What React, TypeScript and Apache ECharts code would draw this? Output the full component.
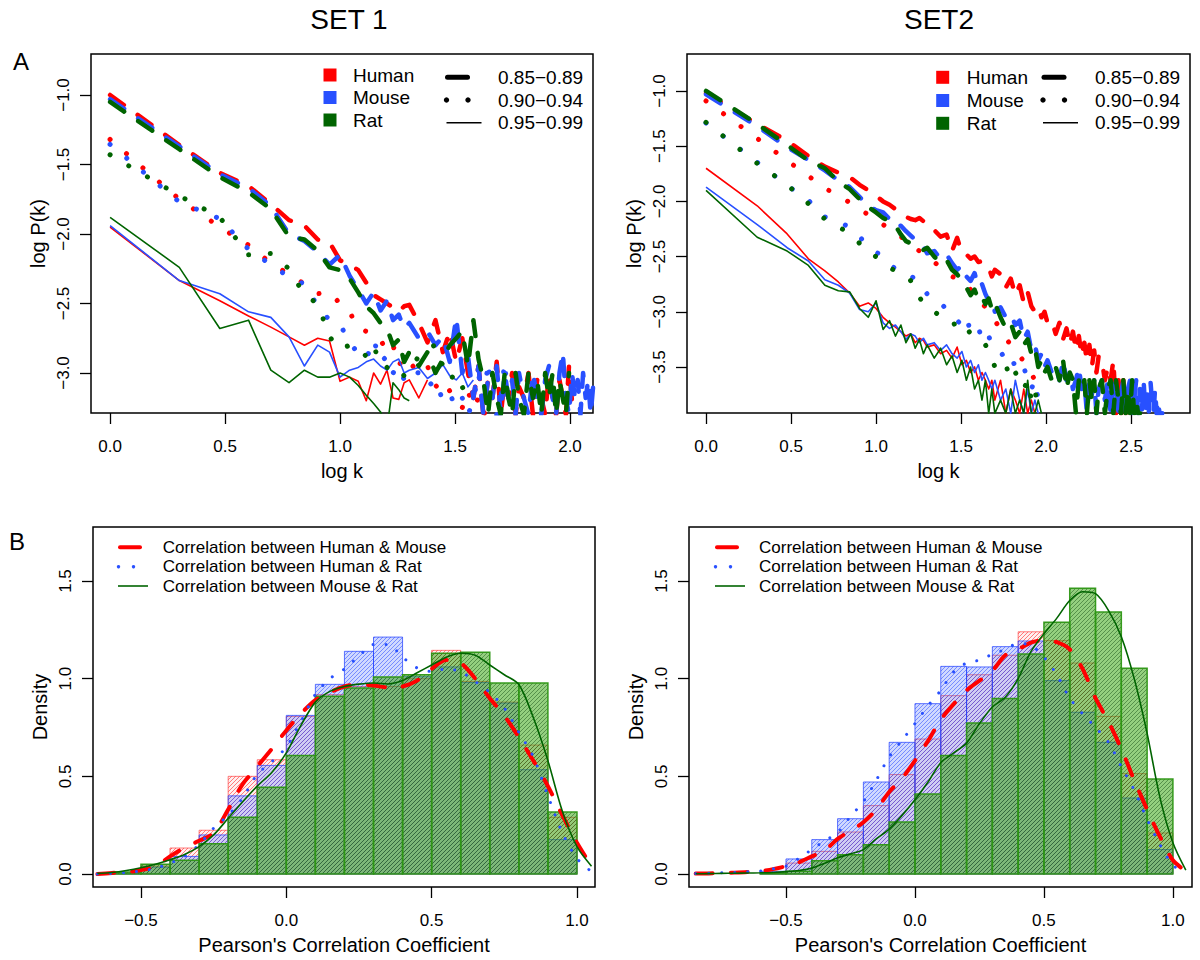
import React, { useEffect, useRef } from 'react';
import * as echarts from 'echarts';

const FONT = '"Liberation Sans", Arial, Helvetica, sans-serif';
const RED = '#ff0000';
const BLUE = '#2850ff';
const GREEN = '#006400';

// ---------- Panel A: degree distributions (x = log10 k) ----------
const kSet1 = [1,2,3,4,5,6,7,8,9,10,11,12,13,14,15,16,17,18,19,20,22,24,26,28,30,32,34,36,38,40,42,44,46,48,50,52,54,56,58,60,63,66,69,72,75,78,81,84,87,90,93,96,99,102,105,108,111,114,117,120,123,126];
const kSet2 = [1,2,3,4,5,6,7,8,9,10,11,12,13,14,15,16,17,18,19,20,22,24,26,28,30,32,34,36,38,40,42,44,46,48,50,54,58,62,66,70,74,78,82,86,90,94,98,102,108,114,120,126,132,138,144,150,156,162,168,174,180,186,192,198,204,213,222,231,240,249,258,267,276,285,294,303,312,321,330,339,348,357,366,375,384,393,402,411,420,429,438,447,456,465,474,483,492,501];

// SET 1 (log P(k)), aligned with kSet1
const s1HumanDash = [-1.00,-1.36,-1.56,-1.655,-1.785,-1.90,-1.94,-2.04,-2.06,-2.19,-2.22,-2.26,-2.35,-2.44,-2.47,-2.50,-2.53,-2.56,-2.52,-2.51,
  -2.64,-2.78,-2.62,-2.85,-2.70,-2.92,-2.75,-3.0,-3.18,-2.95,-3.3,-3.05,-3.18,-2.92,-3.3,-3.05,-3.18,-3.0,-3.3,-3.1,
  -3.18,-3.0,-3.3,-3.05,-3.18,-3.3,-3.0,-3.18,-3.3,-3.05,-3.18,-3.3,-2.95,-3.2];
const s1MouseDash = [-1.03,-1.37,-1.57,-1.67,-1.80,-2.00,-2.05,-2.13,-2.22,-2.15,-2.30,-2.40,-2.50,-2.42,-2.55,-2.48,-2.62,-2.58,-2.68,-2.64,
  -2.75,-2.70,-2.80,-2.74,-2.92,-2.60,-3.0,-2.88,-3.18,-2.95,-3.3,-3.05,-3.18,-2.95,-3.3,-3.0,-3.18,-3.05,-3.3,-3.0,
  -3.18,-3.3,-3.0,-3.18,-3.3,-3.05,-2.95,-3.18,-3.3,-3.0,-2.85,-3.18,-3.3,-3.0,-3.18,-3.05,-3.3,-3.0,-3.18,-3.05,-3.3,-3.1];
const s1RatDash = [-1.05,-1.39,-1.59,-1.70,-1.82,-2.02,-2.04,-2.12,-2.24,-2.26,-2.32,-2.42,-2.52,-2.57,-2.64,-2.68,-2.80,-2.76,-2.92,-2.85,
  -2.95,-2.85,-3.0,-2.90,-2.80,-2.75,-2.70,-2.95,-2.62,-2.90,-3.05,-3.3,-3.0,-3.18,-3.3,-3.0,-3.18,-3.3,-3.0,-3.18,
  -3.3,-3.0,-3.18,-3.05,-3.3,-3.0,-3.18,-3.0,-3.3,-3.05,-3.18,-3.3,-3.0];
const s1HumanDot = [-1.32,-1.75,-1.95,-2.08,-2.21,-2.29,-2.36,-2.43,-2.42,-2.50,-2.56,-2.68,-2.70,-2.72,-2.76,-2.85,-2.80,-2.95,-2.88,-2.92,
  -3.0,-2.95,-3.1,-3.05,-3.13,-3.18,-3.25,-3.13,-3.25,-3.18,-3.3,-3.25];
const s1MouseDot = [-1.355,-1.77,-1.89,-2.11,-2.22,-2.31,-2.36,-2.52,-2.62,-2.65,-2.78,-2.86,-2.90,-2.76,-2.92,-2.88,-3.0,-2.95,-3.05,-2.98,
  -3.0,-3.1,-3.05,-3.2,-3.15,-3.25,-3.18,-3.3,-3.2,-3.0,-3.25,-2.92,-3.2,-3.3,-3.18,-2.92,-3.25,-3.3];
const s1RatDot = [-1.43,-1.725,-1.88,-2.15,-2.14,-2.25,-2.44,-2.50,-2.74,-2.83,-2.80,-2.82,-2.88,-2.80,-2.95,-2.96,-3.0,-2.98,-3.02,-2.98,
  -2.88,-2.82,-2.80,-2.95,-3.05,-3.0,-3.1,-3.18];
const s1HumanSolid = [-1.95,-2.335,-2.48,-2.59,-2.67,-2.74,-2.80,-2.75,-2.77,-3.06,-3.03,-3.06,-3.20,-3.00,-3.08,-2.98,-3.18,-3.19,-3.07,-3.05,
  -3.18,-3.05];
const s1MouseSolid = [-1.94,-2.335,-2.43,-2.56,-2.60,-2.74,-2.95,-2.80,-2.85,-3.03,-2.98,-2.96,-2.92,-2.90,-2.95,-2.98,-2.92,-2.90,-3.0,-2.98,
  -2.96,-3.04,-3.0,-2.94,-3.02,-3.05,-3.0,-3.1,-3.05];
const s1RatSolid = [-1.88,-2.24,-2.68,-2.62,-2.98,-3.07,-2.98,-3.03,-3.03,-3.0,-3.03,-3.09,-3.16,-3.22,-3.28,-3.40,-3.07,-3.12,-3.18,-3.20];

// SET 2 (log P(k)), aligned with kSet2
const s2HumanDash = [-1.02,-1.30,-1.45,-1.59,-1.685,-1.74,-1.78,-1.85,-1.90,-1.95,-2.00,-2.03,-2.07,-2.11,-2.14,-2.16,-2.17,-2.15,-2.18,-2.23,
  -2.26,-2.32,-2.30,-2.45,-2.33,-2.47,-2.48,-2.52,-2.50,-2.55,-2.54,-2.57,-2.60,-2.68,-2.62,
  -2.66,-2.78,-2.70,-2.85,-2.76,-2.92,-2.82,-2.95,-3.0,-2.96,-3.05,-3.0,-3.1,
  -3.08,-3.2,-3.1,-3.25,-3.15,-3.3,-3.18,-3.35,-3.22,-3.4,-3.28,-3.45,-3.3,-3.5,-3.35,-3.55,-3.4,
  -3.44,-3.62,-3.5,-3.62,-3.44,-3.92,-3.62,-3.92,-3.62,-3.92];
const s2MouseDash = [-1.03,-1.32,-1.51,-1.625,-1.72,-1.81,-1.87,-1.96,-2.04,-2.08,-2.10,-2.16,-2.23,-2.22,-2.27,-2.31,-2.35,-2.40,-2.41,-2.47,
  -2.45,-2.52,-2.48,-2.56,-2.62,-2.58,-2.68,-2.72,-2.65,-2.78,-2.75,-2.84,-2.90,-2.88,-3.0,
  -2.96,-3.05,-3.02,-3.12,-3.08,-3.25,-3.18,-3.35,-3.3,-3.44,-3.38,-3.5,-3.44,
  -3.55,-3.5,-3.62,-3.44,-3.62,-3.55,-3.7,-3.62,-3.5,-3.7,-3.62,-3.92,-3.62,-3.75,-3.62,-3.92,-3.7,
  -3.62,-3.8,-3.62,-3.92,-3.7,-3.62,-3.92,-3.75,-3.62,-3.92,-3.7,-3.62,-3.92,-3.8,-3.62,-3.92,-3.7,-3.92,-3.62,-3.92,-3.75,-3.92,-3.62,-3.8,-3.92,-3.7,-3.92,-3.8,-3.92,-3.92,-3.92];
const s2RatDash = [-1.0,-1.30,-1.49,-1.63,-1.70,-1.82,-1.89,-1.98,-2.05,-2.10,-2.15,-2.18,-2.22,-2.30,-2.36,-2.38,-2.40,-2.41,-2.44,-2.42,
  -2.50,-2.56,-2.53,-2.62,-2.66,-2.72,-2.78,-2.85,-2.80,-2.89,-2.86,-2.93,-2.88,-2.98,-2.92,
  -3.05,-3.15,-3.10,-3.23,-3.18,-3.30,-3.25,-3.38,-3.32,-3.50,-3.44,-3.55,-3.5,
  -3.62,-3.5,-3.62,-3.44,-3.7,-3.55,-3.62,-3.92,-3.62,-3.7,-3.62,-3.92,-3.62,-3.8,-3.62,-3.92,-3.7,
  -3.62,-3.92,-3.7,-3.62,-3.92,-3.62,-3.8,-3.92,-3.62,-3.92,-3.7,-3.92,-3.62,-3.92,-3.8,-3.92,-3.92];
const s2HumanDot = [-1.09,-1.43,-1.63,-1.77,-1.88,-1.95,-2.01,-2.07,-2.12,-2.17,-2.21,-2.25,-2.28,-2.32,-2.35,-2.38,-2.42,-2.45,-2.47,-2.50,
  -2.55,-2.60,-2.63,-2.68,-2.70,-2.72,-2.76,-2.80,-2.84,-2.88,-2.92,-2.96,-3.0,-3.05,-3.08,
  -3.16,-3.24,-3.30,-3.34,-3.40,-3.45,-3.5,-3.56,-3.62,-3.7];
const s2MouseDot = [-1.29,-1.646,-1.855,-1.99,-2.14,-2.19,-2.23,-2.32,-2.41,-2.46,-2.50,-2.57,-2.61,-2.64,-2.66,-2.67,-2.71,-2.75,-2.79,-2.84,
  -2.86,-2.92,-2.98,-3.02,-3.08,-3.12,-3.05,-3.18,-3.20,-3.15,-3.24,-3.28,-3.22,-3.30,-3.32,
  -3.36,-3.44,-3.40,-3.50,-3.55,-3.50,-3.62,-3.70,-3.62,-3.80,-3.92];
const s2RatDot = [-1.284,-1.655,-1.85,-2.02,-2.16,-2.23,-2.29,-2.38,-2.47,-2.50,-2.55,-2.60,-2.63,-2.66,-2.67,-2.72,-2.84,-2.87,-2.92,-2.96,
  -3.0,-3.04,-3.08,-3.12,-3.10,-3.16,-3.14,-3.20,-3.22,-3.25,-3.28,-3.30,-3.35,-3.42,-3.50,
  -3.54,-3.48,-3.62,-3.55,-3.62,-3.70,-3.62,-3.80,-3.70,-3.92];
const s2HumanSolid = [-1.70,-2.04,-2.295,-2.52,-2.63,-2.73,-2.83,-2.95,-2.92,-2.97,-3.05,-3.10,-3.14,-3.18,-3.22,-3.20,-3.28,-3.24,-3.26,-3.32,
  -3.30,-3.38,-3.35,-3.42,-3.32,-3.48,-3.44,-3.55,-3.50,-3.62,-3.55,-3.62,-3.70,-3.62,-3.80,
  -3.62,-3.92,-3.70,-3.80,-3.92,-3.70,-3.92,-3.80,-3.92];
const s2MouseSolid = [-1.87,-2.21,-2.42,-2.54,-2.71,-2.76,-2.83,-2.98,-3.0,-2.92,-3.10,-3.15,-3.12,-3.18,-3.25,-3.20,-3.22,-3.28,-3.24,-3.30,
  -3.28,-3.35,-3.30,-3.38,-3.42,-3.36,-3.50,-3.44,-3.55,-3.48,-3.62,-3.55,-3.62,-3.70,-3.62,
  -3.80,-3.70,-3.92,-3.62,-3.80,-3.92,-3.70,-3.92,-3.80,-3.92];
const s2RatSolid = [-1.90,-2.325,-2.45,-2.58,-2.76,-2.81,-2.82,-2.97,-3.05,-2.90,-3.16,-3.08,-3.22,-3.12,-3.28,-3.20,-3.33,-3.25,-3.38,-3.30,
  -3.42,-3.33,-3.48,-3.40,-3.55,-3.44,-3.62,-3.50,-3.70,-3.62,-3.80,-3.62,-3.92,-3.70,-3.92,
  -3.80,-3.92,-3.70,-3.92,-3.80,-3.92,-3.62,-3.92,-3.92,-3.80,-3.92];

// ---------- Panel B: correlation histograms (density) ----------
const histEdges = [-0.6,-0.5,-0.4,-0.3,-0.2,-0.1,0.0,0.1,0.2,0.3,0.4,0.5,0.6,0.7,0.8,0.9,1.0];
const h1HumanMouse = [0.006,0.04,0.133,0.224,0.50,0.585,0.807,0.918,0.96,0.96,1.0,1.145,0.986,0.88,0.66,0.29];
const h1HumanRat = [0.005,0.035,0.09,0.20,0.40,0.556,0.812,0.971,1.14,1.213,1.01,1.06,0.98,0.875,0.534,0.176];
const h1MouseRat = [0.01,0.05,0.07,0.155,0.29,0.444,0.607,0.91,0.952,1.008,1.02,1.13,1.135,0.978,0.978,0.317];
const h2HumanMouse = [0.01,0.056,0.116,0.215,0.35,0.509,0.691,0.913,1.02,1.12,1.24,1.195,1.08,0.807,0.514,0.21];
const h2HumanRat = [0.014,0.077,0.176,0.283,0.471,0.674,0.872,1.063,1.06,1.164,1.193,0.99,0.828,0.674,0.389,0.125];
const h2MouseRat = [0.005,0.014,0.068,0.099,0.15,0.266,0.41,0.607,0.773,0.898,1.126,1.289,1.463,1.341,1.053,0.486];

// density curves
const kdeX1 = [-0.65,-0.6,-0.55,-0.5,-0.45,-0.4,-0.35,-0.3,-0.25,-0.2,-0.15,-0.1,-0.05,0,0.05,0.1,0.15,0.2,0.25,0.3,0.35,0.4,0.45,0.5,0.55,0.6,0.65,0.7,0.75,0.8,0.85,0.9,0.95,1.0,1.05];
const d1HumanMouse = [0.0,0.005,0.01,0.02,0.04,0.09,0.135,0.17,0.21,0.33,0.46,0.55,0.64,0.735,0.82,0.89,0.93,0.96,0.97,0.965,0.955,0.96,0.99,1.05,1.095,1.08,1.0,0.9,0.81,0.70,0.58,0.45,0.30,0.16,0.04];
const d1HumanRat = [0.0,0.003,0.008,0.015,0.03,0.055,0.09,0.15,0.235,0.30,0.39,0.51,0.575,0.65,0.78,0.92,1.0,1.05,1.115,1.175,1.175,1.11,1.055,1.037,1.05,1.035,0.985,0.93,0.85,0.725,0.60,0.40,0.21,0.08,0.012];
const d1MouseRat = [0.003,0.008,0.018,0.032,0.05,0.073,0.10,0.14,0.20,0.285,0.37,0.45,0.52,0.62,0.76,0.88,0.935,0.96,0.972,0.978,0.973,0.99,1.03,1.07,1.11,1.13,1.12,1.07,1.02,0.97,0.80,0.58,0.32,0.14,0.04];
const kdeX2 = [-0.85,-0.8,-0.75,-0.7,-0.65,-0.6,-0.55,-0.5,-0.45,-0.4,-0.35,-0.3,-0.25,-0.2,-0.15,-0.1,-0.05,0,0.05,0.1,0.15,0.2,0.25,0.3,0.35,0.4,0.45,0.5,0.55,0.6,0.65,0.7,0.75,0.8,0.85,0.9,0.95,1.0,1.05];
const d2HumanMouse = [0.002,0.003,0.005,0.007,0.01,0.015,0.025,0.04,0.06,0.09,0.12,0.18,0.22,0.265,0.33,0.42,0.49,0.58,0.68,0.79,0.87,0.94,0.99,1.04,1.12,1.15,1.185,1.195,1.187,1.15,1.05,0.90,0.78,0.64,0.48,0.33,0.19,0.07,0.015];
const d2HumanRat = [0.002,0.004,0.006,0.008,0.011,0.015,0.026,0.04,0.08,0.125,0.17,0.21,0.295,0.37,0.48,0.60,0.685,0.77,0.86,0.94,1.035,1.08,1.095,1.125,1.15,1.18,1.17,1.11,1.02,0.90,0.82,0.75,0.675,0.55,0.43,0.28,0.15,0.045,0.006];
const d2MouseRat = [0.001,0.002,0.003,0.004,0.005,0.006,0.008,0.012,0.018,0.03,0.055,0.083,0.103,0.125,0.18,0.23,0.30,0.38,0.47,0.57,0.62,0.67,0.77,0.855,0.905,1.0,1.14,1.23,1.31,1.40,1.445,1.435,1.35,1.215,1.0,0.72,0.39,0.16,0.02];

const speciesNames = ['Human', 'Mouse', 'Rat'];
const rangeNames = ['0.85\u22120.89', '0.90\u22120.94', '0.95\u22120.99'];
const corrNames = ['Correlation between Human & Mouse', 'Correlation between Human & Rat', 'Correlation between Mouse & Rat'];

// ---------- helpers ----------
const fmt = (v: number) => (v < 0 ? '\u2212' : '') + Math.abs(v).toFixed(1);

function xAxisDef(grid: number, min: number, max: number, ticks: number[], name: string) {
  return {
    type: 'value', gridIndex: grid, min, max, name, nameLocation: 'middle', nameGap: 48,
    nameTextStyle: { fontFamily: FONT, fontSize: 20, color: '#000' },
    axisLine: { show: false, onZero: false }, splitLine: { show: false },
    axisTick: { show: true, inside: false, length: 11, customValues: ticks, lineStyle: { color: '#000', width: 1.3 } },
    axisLabel: { show: true, customValues: ticks, formatter: fmt, margin: 25, fontFamily: FONT, fontSize: 17, color: '#000' },
  };
}
function yAxisDef(grid: number, min: number, max: number, ticks: number[], name: string) {
  return {
    type: 'value', gridIndex: grid, min, max, name, nameLocation: 'middle', nameGap: 43,
    nameTextStyle: { fontFamily: FONT, fontSize: 20, color: '#000' },
    axisLine: { show: false, onZero: false }, splitLine: { show: false },
    axisTick: { show: true, inside: false, length: 11, customValues: ticks, lineStyle: { color: '#000', width: 1.3 } },
    axisLabel: { show: true, customValues: ticks, formatter: fmt, rotate: 90, margin: 19, fontFamily: FONT, fontSize: 17, color: '#000' },
  };
}

type LStyle = 'dash' | 'dot' | 'solid';
function degreeLine(grid: number, ks: number[], vals: number[], color: string, st: LStyle) {
  const data: number[][] = [];
  for (let i = 0; i < vals.length && i < ks.length; i++) data.push([Math.log10(ks[i]), vals[i]]);
  let lineStyle: any;
  if (st === 'dash') lineStyle = { color, width: 4.5, type: [17, 17], cap: 'round', join: 'round' };
  else if (st === 'dot') lineStyle = { color, width: 5, type: [0.01, 21.7], cap: 'round', join: 'round' };
  else lineStyle = { color, width: 1.6, type: 'solid', join: 'round' };
  return {
    type: 'line', xAxisIndex: grid, yAxisIndex: grid, data, showSymbol: false, symbol: 'none',
    silent: true, clip: true, lineStyle, animation: false,
  };
}

function kdeLine(grid: number, xs: number[], vals: number[], kind: number) {
  const data = xs.map((x, i) => [x, vals[i]]);
  let lineStyle: any;
  if (kind === 0) lineStyle = { color: RED, width: 4, type: [17, 18], cap: 'round' };
  else if (kind === 1) lineStyle = { color: BLUE, width: 3, type: [0.01, 13], cap: 'round' };
  else lineStyle = { color: GREEN, width: 1.6, type: 'solid' };
  return {
    type: 'line', xAxisIndex: grid, yAxisIndex: grid, data, showSymbol: false, symbol: 'none',
    silent: true, clip: true, smooth: 0.3, lineStyle, animation: false, z: 5,
  };
}

function histSeries(grid: number, heights: number[], fill: string, hatch: string, border: string, bw: number) {
  const data = heights.map((h, i) => [histEdges[i], histEdges[i + 1], h]);
  return {
    type: 'custom', xAxisIndex: grid, yAxisIndex: grid, silent: true, animation: false,
    encode: { x: [0, 1], y: 2 }, data, z: 2,
    renderItem: (params: any, api: any) => {
      const a = api.coord([api.value(0), api.value(2)]);
      const b = api.coord([api.value(1), 0]);
      const L = a[0], T = a[1], R = b[0], B = b[1];
      const step = 4;
      let d = '';
      for (let c = Math.ceil((L + T) / step) * step; c <= R + B; c += step) {
        const xa = Math.max(L, c - B);
        const xb = Math.min(R, c - T);
        if (xb - xa > 0.3) {
          d += 'M' + xa.toFixed(2) + ' ' + (c - xa).toFixed(2) + 'L' + xb.toFixed(2) + ' ' + (c - xb).toFixed(2);
        }
      }
      const children: any[] = [
        { type: 'rect', shape: { x: L, y: T, width: R - L, height: B - T }, style: { fill, stroke: 'none' } },
      ];
      if (d) children.push({ type: 'path', shape: { pathData: d }, style: { fill: 'none', stroke: hatch, lineWidth: 0.9 } });
      children.push({ type: 'rect', shape: { x: L, y: T, width: R - L, height: B - T }, style: { fill: 'none', stroke: border, lineWidth: bw } });
      return { type: 'group', children };
    },
  };
}

function txt(x: number, y: number, text: string, size: number, align = 'left') {
  return {
    type: 'text', x, y, silent: true, z: 100,
    style: { text, font: `${size}px ${FONT}`, fill: '#000', textAlign: align, textVerticalAlign: 'middle' },
  };
}
function seg(x1: number, y1: number, x2: number, y2: number, color: string, w: number, cap = 'butt') {
  return { type: 'line', silent: true, z: 100, shape: { x1, y1, x2, y2 }, style: { stroke: color, lineWidth: w, lineCap: cap } };
}
function dot(cx: number, cy: number, r: number, color: string) {
  return { type: 'circle', silent: true, z: 100, shape: { cx, cy, r }, style: { fill: color } };
}
function sq(cx: number, cy: number, color: string) {
  return { type: 'rect', silent: true, z: 100, shape: { x: cx - 6.5, y: cy - 6.5, width: 13, height: 13 }, style: { fill: color } };
}

function topLegend(sqX: number, nameX: number, sampleX: number, rangeX: number, nameYs: number[], rangeYs: number[]) {
  const cols = [RED, BLUE, GREEN];
  const els: any[] = [];
  for (let i = 0; i < 3; i++) {
    els.push(sq(sqX, nameYs[i], cols[i]));
    els.push(txt(nameX, nameYs[i], speciesNames[i], 19));
    els.push(txt(rangeX, rangeYs[i], rangeNames[i], 19));
  }
  els.push(seg(sampleX + 2.5, rangeYs[0], sampleX + 22.5, rangeYs[0], '#000', 5, 'round'));
  els.push(dot(sampleX + 1.5, rangeYs[1], 2.7, '#000'));
  els.push(dot(sampleX + 23, rangeYs[1], 2.7, '#000'));
  els.push(seg(sampleX + 1.5, rangeYs[2], sampleX + 36.5, rangeYs[2], '#000', 1.6));
  return els;
}

function bottomLegend(x0: number, textX: number) {
  const ys = [547.3, 566.7, 586];
  return [
    seg(x0 + 2, ys[0], x0 + 22, ys[0], RED, 4, 'round'),
    dot(x0 + 0.5, ys[1], 1.7, BLUE),
    dot(x0 + 15.5, ys[1], 1.7, BLUE),
    seg(x0, ys[2], x0 + 30, ys[2], GREEN, 1.6),
    txt(textX, ys[0], corrNames[0], 17),
    txt(textX, ys[1], corrNames[1], 17),
    txt(textX, ys[2], corrNames[2], 17),
  ];
}

const HR = { fill: 'rgba(255,0,0,0.06)', hatch: 'rgba(255,0,0,0.55)', border: 'rgba(255,40,40,0.6)', bw: 1 };
const HB = { fill: 'rgba(40,80,255,0.22)', hatch: 'rgba(40,70,255,0.6)', border: 'rgba(40,70,255,0.75)', bw: 1 };
const HG = { fill: 'rgba(50,165,10,0.52)', hatch: 'rgba(20,80,20,0.55)', border: 'rgba(45,150,20,0.95)', bw: 1.5 };

function buildOption() {
  const gridBase = { show: true, borderColor: '#000', borderWidth: 1.5, backgroundColor: 'transparent', containLabel: false, outerBoundsMode: 'none' };
  const series: any[] = [];
  const set1 = [
    [s1HumanDash, s1HumanDot, s1HumanSolid],
    [s1MouseDash, s1MouseDot, s1MouseSolid],
    [s1RatDash, s1RatDot, s1RatSolid],
  ];
  const set2 = [
    [s2HumanDash, s2HumanDot, s2HumanSolid],
    [s2MouseDash, s2MouseDot, s2MouseSolid],
    [s2RatDash, s2RatDot, s2RatSolid],
  ];
  const cols = [RED, BLUE, GREEN];
  const styles: LStyle[] = ['dash', 'dot', 'solid'];
  for (let s = 0; s < 3; s++) {
    for (let t = 0; t < 3; t++) {
      series.push(degreeLine(0, kSet1, set1[s][t], cols[s], styles[t]));
      series.push(degreeLine(1, kSet2, set2[s][t], cols[s], styles[t]));
    }
  }
  const hs = [[h1HumanMouse, h1HumanRat, h1MouseRat], [h2HumanMouse, h2HumanRat, h2MouseRat]];
  const hst = [HR, HB, HG];
  for (let g = 0; g < 2; g++) {
    for (let i = 0; i < 3; i++) {
      const st = hst[i];
      series.push(histSeries(2 + g, hs[g][i], st.fill, st.hatch, st.border, st.bw));
    }
  }
  const ds = [[d1HumanMouse, d1HumanRat, d1MouseRat], [d2HumanMouse, d2HumanRat, d2MouseRat]];
  const xs = [kdeX1, kdeX2];
  for (let g = 0; g < 2; g++) {
    for (let i = 0; i < 3; i++) series.push(kdeLine(2 + g, xs[g], ds[g][i], i));
  }

  const graphic: any[] = [
    txt(349, 19, 'SET 1', 28, 'center'),
    txt(939, 19, 'SET2', 28, 'center'),
    txt(21, 61.5, 'A', 24, 'center'),
    txt(17, 541, 'B', 24, 'center'),
    ...topLegend(330, 353, 445, 498, [75, 97.5, 120], [77.3, 100, 122.7]),
    ...topLegend(942.7, 966.7, 1041.5, 1095, [77.3, 100.5, 123.3], [77.3, 100, 122.7]),
    ...bottomLegend(118, 162.7),
    ...bottomLegend(715, 759),
  ];

  return {
    animation: false,
    backgroundColor: '#ffffff',
    textStyle: { fontFamily: FONT },
    grid: [
      { ...gridBase, left: 91, top: 54, width: 502, height: 359 },
      { ...gridBase, left: 687, top: 54, width: 503, height: 359 },
      { ...gridBase, left: 93, top: 527, width: 502, height: 360 },
      { ...gridBase, left: 689, top: 527, width: 503, height: 360 },
    ],
    xAxis: [
      xAxisDef(0, -0.083, 2.1, [0, 0.5, 1, 1.5, 2], 'log k'),
      xAxisDef(1, -0.112, 2.847, [0, 0.5, 1, 1.5, 2, 2.5], 'log k'),
      xAxisDef(2, -0.665, 1.062, [-0.5, 0, 0.5, 1], "Pearson's Correlation Coefficient"),
      xAxisDef(3, -0.876, 1.074, [-0.5, 0, 0.5, 1], "Pearson's Correlation Coefficient"),
    ],
    yAxis: [
      yAxisDef(0, -3.288, -0.705, [-3, -2.5, -2, -1.5, -1], 'log P(k)'),
      yAxisDef(1, -3.917, -0.665, [-3.5, -3, -2.5, -2, -1.5, -1], 'log P(k)'),
      yAxisDef(2, -0.0666, 1.7765, [0, 0.5, 1, 1.5], 'Density'),
      yAxisDef(3, -0.0666, 1.7765, [0, 0.5, 1, 1.5], 'Density'),
    ],
    series,
    graphic,
  };
}

export default function App() {
  const ref = useRef<HTMLDivElement>(null);
  useEffect(() => {
    if (!ref.current) return;
    const chart = echarts.init(ref.current, null, { renderer: 'svg' });
    chart.setOption(buildOption() as any);
    return () => chart.dispose();
  }, []);
  return (
    <div
      ref={ref}
      style={{ position: 'absolute', left: 0, top: 0, width: 1200, height: 960, background: '#ffffff' }}
    />
  );
}
